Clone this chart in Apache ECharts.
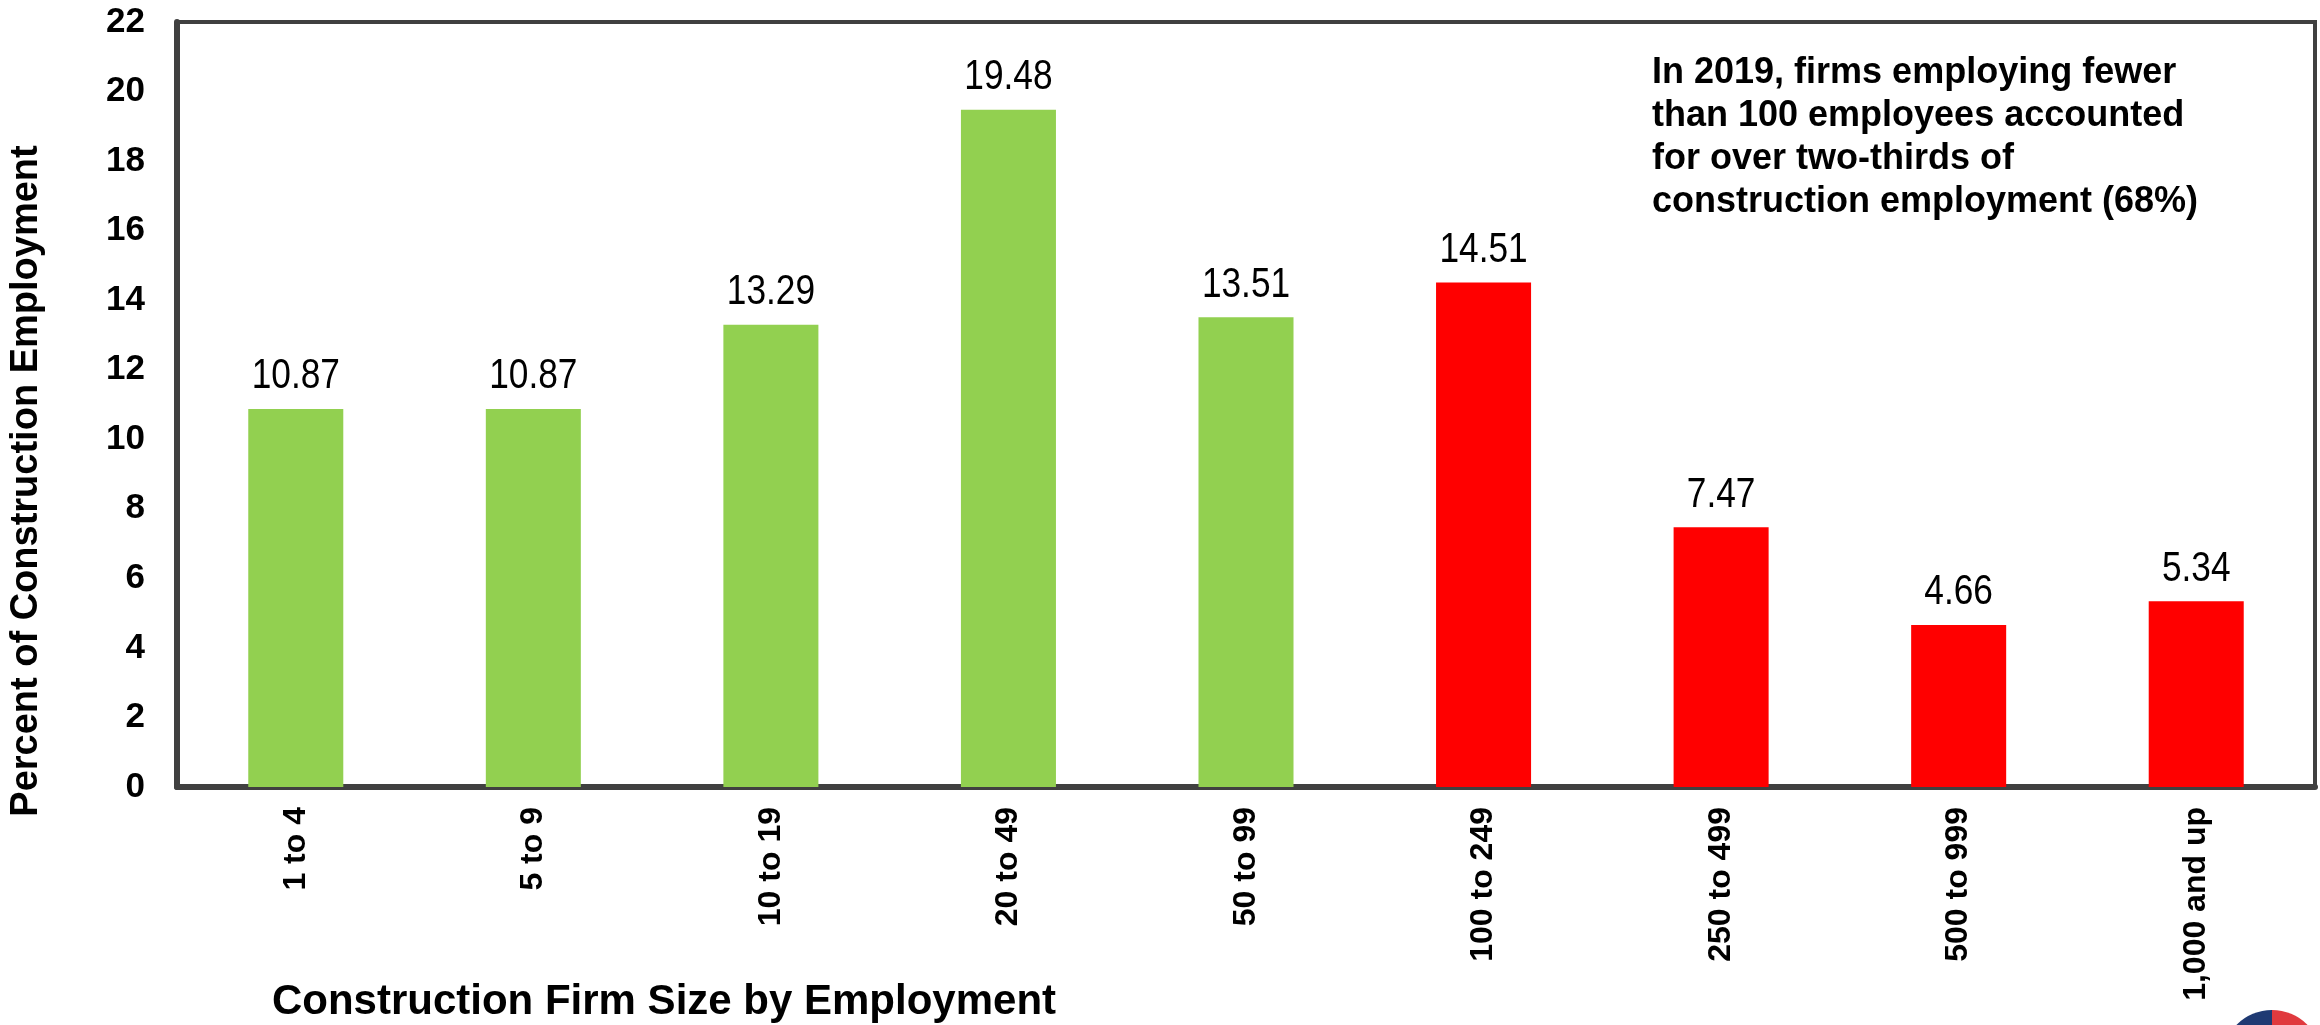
<!DOCTYPE html>
<html><head><meta charset="utf-8">
<script src="https://cdn.jsdelivr.net/npm/echarts@6/dist/echarts.min.js"></script>
<style>html,body{margin:0;padding:0;background:#fff}#c{width:2320px;height:1025px}</style>
</head><body><div id="c"></div>
<script>
const categories = ["1 to 4","5 to 9","10 to 19","20 to 49","50 to 99","100 to 249","250 to 499","500 to 999","1,000 and up"];
const values = [10.87, 10.87, 13.29, 19.48, 13.51, 14.51, 7.47, 4.66, 5.34];
const barColors = ["#92D050","#92D050","#92D050","#92D050","#92D050","#FF0000","#FF0000","#FF0000","#FF0000"];
const yTicks = {min: 0, max: 22, interval: 2};
const yTitle = "Percent of Construction Employment";
const xTitle = "Construction Firm Size by Employment";
const note = "In 2019, firms employing fewer\nthan 100 employees accounted\nfor over two-thirds of\nconstruction employment (68%)";

const chart = echarts.init(document.getElementById('c'));
chart.setOption({
  animation: false,
  backgroundColor: '#fff',
  grid: {left: 177, right: 5, top: 22, bottom: 238, show: true, borderColor: '#404040', borderWidth: 4,
    containLabel: false, outerBoundsMode: 'none'},
  xAxis: {
    type: 'category', data: categories,
    axisLine: {lineStyle: {color: '#404040', width: 6}},
    axisTick: {show: false},
    axisLabel: {rotate: 90, margin: 20, color: '#000', fontFamily: 'Liberation Sans', fontWeight: 'bold', fontSize: 32}
  },
  yAxis: {
    type: 'value', min: yTicks.min, max: yTicks.max, interval: yTicks.interval,
    axisLine: {show: true, lineStyle: {color: '#404040', width: 6}},
    axisTick: {show: false},
    splitLine: {show: false},
    axisLabel: {margin: 32, color: '#000', fontFamily: 'Liberation Sans', fontWeight: 'bold', fontSize: 35}
  },
  series: [{
    type: 'bar', barWidth: '40%',
    data: values.map((v, i) => ({value: v, itemStyle: {color: barColors[i]}}))
  }, {
    type: 'custom',
    data: values.map((v, i) => [i, v]),
    renderItem: function (params, api) {
      const pt = api.coord([api.value(0), api.value(1)]);
      return {
        type: 'text', x: pt[0], y: pt[1] - 11, scaleX: 0.82,
        style: {text: api.value(1).toFixed(2), fill: '#000', font: '43px "Liberation Sans"', align: 'center', verticalAlign: 'bottom'}
      };
    }
  }],
  graphic: [
    {type: 'text', left: 1652, top: 52, style: {text: note, fill: '#000', font: 'bold 36px "Liberation Sans"', lineHeight: 43}},
    {type: 'text', x: 27, y: 481, rotation: Math.PI / 2, style: {text: yTitle, fill: '#000', font: 'bold 38px "Liberation Sans"', align: 'center', verticalAlign: 'middle'}},
    {type: 'text', x: 664, y: 1002, style: {text: xTitle, fill: '#000', font: 'bold 42px "Liberation Sans"', align: 'center', verticalAlign: 'middle'}},
    {type: 'sector', shape: {cx: 2272, cy: 1060, r: 50, r0: 0, startAngle: Math.PI, endAngle: Math.PI * 1.5}, style: {fill: '#1F3A73'}},
    {type: 'sector', shape: {cx: 2272, cy: 1060, r: 50, r0: 0, startAngle: Math.PI * 1.5, endAngle: Math.PI * 2}, style: {fill: '#E03A3E'}}
  ]
});
</script></body></html>
